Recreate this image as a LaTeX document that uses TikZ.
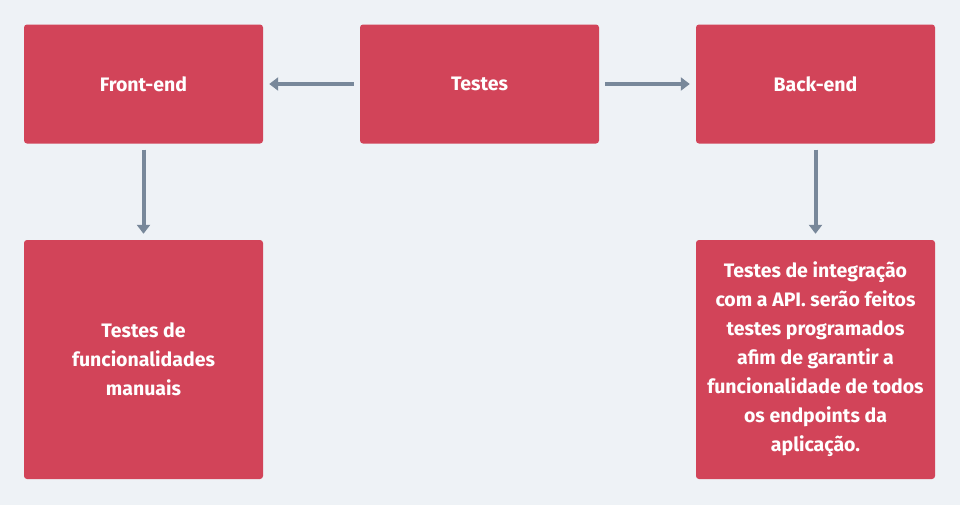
\documentclass[tikz,border=0pt]{standalone}
\usepackage{fontspec}
\setmainfont{Fira Sans}
\usepackage{xcolor}
\usepackage{tikz}
\usetikzlibrary{arrows.meta, positioning}

\definecolor{boxred}{HTML}{D24459}
\definecolor{arrowgray}{HTML}{78889A}
\definecolor{bggray}{HTML}{EEF2F6}

\begin{document}
\begin{tikzpicture}[
    x=1pt, y=-1pt,
    box/.style={rectangle, fill=boxred, text=white, rounded corners=3pt, minimum width=239pt, minimum height=119pt, align=center, font=\fontsize{19.5}{29}\selectfont\bfseries, inner sep=0pt},
    tallbox/.style={box, minimum height=239pt},
    arrow/.style={-{Triangle[width=13pt,length=9pt]}, draw=arrowgray, line width=4pt, shorten >=6pt, shorten <=6pt},
]

% Background
\useasboundingbox (0,0) rectangle (960,504);
\fill[bggray] (-2,-2) rectangle (962,506);

% Top row
\node[box] (front) at (143.5, 84) {Front-end};
\node[box] (testes) at (479.5, 84) {Testes};
\node[box] (back) at (815.5, 84) {Back-end};

% Bottom row
\node[tallbox] (manual) at (143.5, 359.5) {Testes de\\funcionalidades\\manuais};
\node[tallbox] (api) at (815.5, 359.5) {Testes de integração\\com a API. serão feitos\\testes programados\\afim de garantir a\\funcionalidade de todos\\os endpoints da\\aplicação.};

% Arrows
\draw[arrow] (testes) -- (front);
\draw[arrow] (testes) -- (back);
\draw[arrow] (front) -- (manual);
\draw[arrow] (back) -- (api);

\end{tikzpicture}
\end{document}
